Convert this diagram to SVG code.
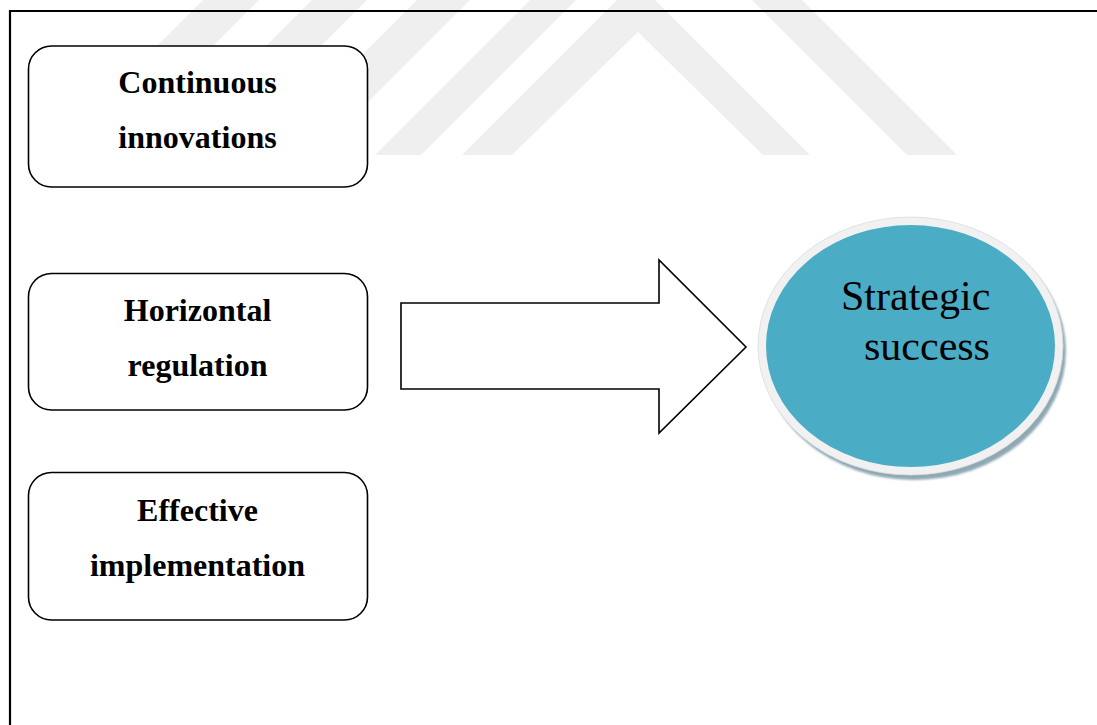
<svg xmlns="http://www.w3.org/2000/svg" width="1097" height="725" viewBox="0 0 1097 725">
  <defs>
    <style>
      .wm { fill: #efefef; }
      .box { fill: #ffffff; stroke: #000000; stroke-width: 1.6; }
      .lbl { font-family: "Liberation Serif", "Times New Roman", serif; font-weight: bold; font-size: 32px; fill: #000000; text-anchor: middle; }
      .big { font-family: "Liberation Serif", "Times New Roman", serif; font-size: 42px; fill: #000000; }
      .frame { stroke: #000000; stroke-width: 2.2; fill: none; }
    </style>
    <filter id="soft" x="-10%" y="-10%" width="120%" height="120%">
      <feGaussianBlur stdDeviation="1.2"/>
    </filter>
  </defs>
  <rect x="0" y="0" width="1097" height="725" fill="#ffffff"/>

  <g id="watermark">
    <polygon class="wm" points="203,0 259,0 104,155 48,155"/>
    <polygon class="wm" points="312,0 367,0 212,155 157,155"/>
    <polygon class="wm" points="417,0 470,0 315,155 262,155"/>
    <polygon class="wm" points="530,0 576,0 421,155 375,155"/>
    <polygon class="wm" points="462,155 512,155 638,32 763,155 810,155 655,0 617,0"/>
    <polygon class="wm" points="907,155 957,155 802,0 752,0"/>
  </g>

  <g id="frame">
    <line class="frame" x1="10" y1="11" x2="1097" y2="11"/>
    <line class="frame" x1="10" y1="10" x2="10" y2="725"/>
  </g>

  <g id="node-continuous-innovations">
    <rect class="box" x="28.5" y="46" width="339" height="141" rx="23" ry="23"/>
    <text class="lbl" x="197.5" y="93">Continuous</text>
    <text class="lbl" x="197.5" y="148">innovations</text>
  </g>

  <g id="node-horizontal-regulation">
    <rect class="box" x="28.5" y="273.5" width="339" height="136.5" rx="23" ry="23"/>
    <text class="lbl" x="197.5" y="321">Horizontal</text>
    <text class="lbl" x="197.5" y="376">regulation</text>
  </g>

  <g id="node-effective-implementation">
    <rect class="box" x="28.5" y="472.5" width="339" height="147.5" rx="23" ry="23"/>
    <text class="lbl" x="197.5" y="521">Effective</text>
    <text class="lbl" x="197.5" y="576">implementation</text>
  </g>

  <g id="connectors">
    <polygon fill="#ffffff" stroke="#000000" stroke-width="1.6" stroke-linejoin="miter" points="401,303 659,303 659,260 746,347 659,433 659,389 401,389"/>
  </g>

  <g id="node-strategic-success">
    <ellipse cx="914" cy="351" rx="152" ry="129" fill="#8fa9b4" filter="url(#soft)"/>
    <ellipse cx="910.5" cy="346" rx="148.5" ry="125" fill="#4bacc6" stroke="#f1f1f1" stroke-width="8"/>
    <ellipse cx="910.5" cy="346" rx="152.5" ry="129" fill="none" stroke="#dcdcdc" stroke-width="0.8"/>
    <text class="big" x="841" y="310">Strategic</text>
    <text class="big" x="864" y="360">success</text>
  </g>
</svg>
